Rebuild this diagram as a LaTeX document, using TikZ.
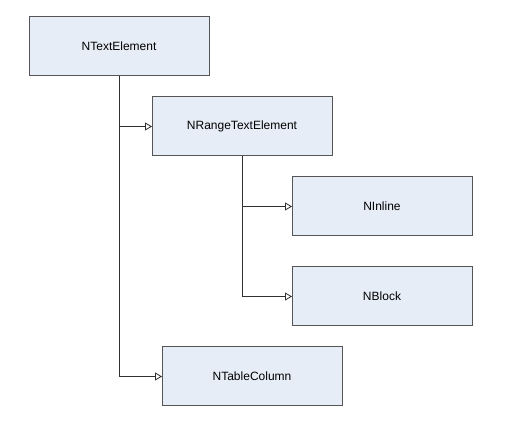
\documentclass[tikz,border=0pt]{standalone}
\usepackage{fontspec}
\setmainfont{Liberation Sans}
\usetikzlibrary{positioning, arrows.meta}

\definecolor{boxfill}{HTML}{E7EDF7}
\definecolor{boxline}{HTML}{555555}
\definecolor{wire}{HTML}{303030}

\begin{document}
\begin{tikzpicture}[
    x=1pt, y=-1pt,
    node distance=21pt,
    every node/.style={font=\fontsize{12}{14}\selectfont},
    classbox/.style={draw=boxline, fill=boxfill, line width=1pt, minimum width=180pt, minimum height=59pt, inner sep=0pt, outer sep=0pt},
    inherit/.style={draw=wire, line width=0.9pt, -{Triangle[open, length=7pt, width=8pt, line width=0.8pt, fill=white]}}
]
    \useasboundingbox (0,0) rectangle (523,422);

    % --- CLASS BOXES ---
    \node[classbox] (textelem) at (119,46.5) {NTextElement};
    \node[classbox, below=of textelem, xshift=123pt] (rangeelem) {NRangeTextElement};
    \node[classbox, below=of rangeelem, xshift=140pt] (inline) {NInline};
    \node[classbox, below=31pt of inline] (block) {NBlock};
    \node[classbox, below=of block, xshift=-130pt] (tablecol) {NTableColumn};

    % --- INHERITANCE WIRES ---
    \draw[inherit] (textelem.south) |- (rangeelem.west);
    \draw[inherit] (textelem.south) |- (tablecol.west);
    \draw[inherit] (rangeelem.south) |- (inline.west);
    \draw[inherit] (rangeelem.south) |- (block.west);

\end{tikzpicture}
\end{document}
